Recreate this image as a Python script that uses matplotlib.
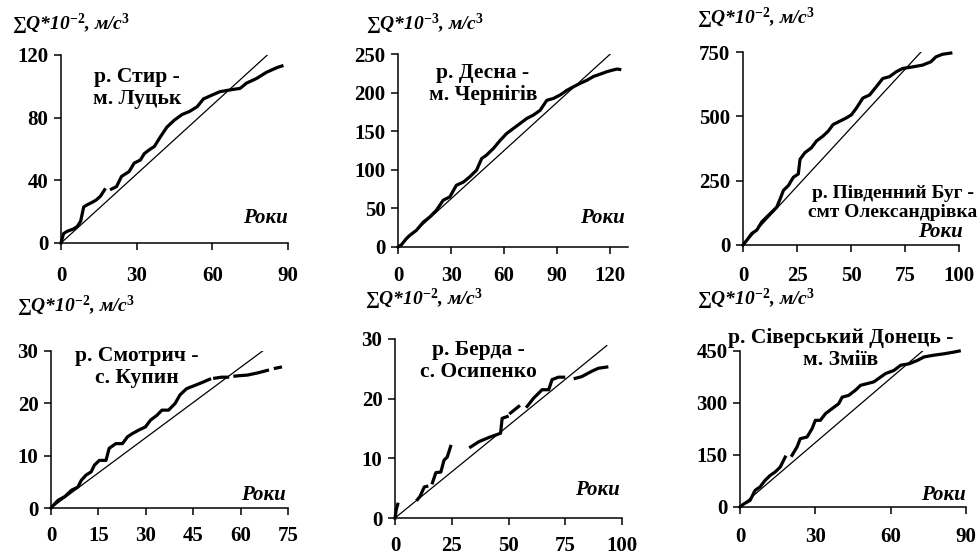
import matplotlib
matplotlib.use("Agg")
import matplotlib.pyplot as plt
import numpy as np

nan = np.nan

# р. Стир - м. Луцьк
styr_x = [0, 1, 2.5, 5, 6.5, 7.8, 9, 10.4, 12.4, 14, 15.7, 17.3, nan,
          20, 22, 24, 27, 29, 31.5, 33, 35, 37, 39.5, 42, 45, 48, 51, 54,
          56.5, 60, 63, 67, 71, 73.5, 77.5, 81.5, 85.7, 87.6]
styr_y = [0, 6, 7.5, 9, 10.6, 14, 23, 24.4, 26, 27.5, 30, 34, nan,
          34.4, 36, 42.5, 45.6, 51, 53, 57, 59.5, 61.6, 68, 74, 78.5, 82, 84, 87,
          92, 94.5, 96.6, 97.7, 98.7, 102, 105, 109, 112, 113]
styr_line = ([0, 81.8], [0, 120])

# р. Десна - м. Чернігів
desna_x = [0, 2, 4.7, 6.6, 10.4, 14.2, 18, 21.7, 25.5, 29.3, 33, 36.9, 40.6,
           44.4, 47.3, 50, 53.9, 57.7, 61.4, 65.2, 69, 72.8, 76.6, 80.3, 84.1,
           87.9, 91.7, 95.5, 99.2, 103, 106.8, 110.6, 114.4, 118, 121, 123.8, 125.3]
desna_y = [0, 3, 10.8, 15, 21.6, 32, 39, 47.6, 60.5, 65, 80, 84, 91,
           99.5, 114.6, 119, 127.6, 138, 147, 153.5, 160, 166.5, 171, 177, 190,
           192.5, 197, 203, 207.6, 212, 216, 221, 224, 227, 229, 230.5, 230]
desna_line = ([0, 120], [0, 250])

# р. Південний Буг - смт Олександрівка
bug_x = [0, 1.8, 4.1, 6.4, 8.7, 11, 13.3, 15.6, 17.2, 18.7, 21, 23.3, 25.6,
         26.4, 28.7, 31.7, 34, 37, 39.4, 41.7, 44.8, 47.9, 50.2, 52.5, 55.5,
         58.6, 61.7, 64.7, 67.8, 70.9, 73.9, 78.5, 83.1, 87, 89.3, 92.3, 96.2]
bug_y = [0, 19, 45, 58, 90, 109, 128, 147, 179, 212, 231, 263, 276,
         333, 359, 378, 404, 423, 442, 468, 481, 494, 506, 532, 571,
         583, 615, 647, 654, 673, 686, 692, 699, 712, 731, 741, 746]
bug_line = ([0, 82.4], [0, 750])

# р. Смотрич - с. Купин
smot_x = [0, 0.7, 2.3, 4.4, 6.5, 8.5, 9.6, 11.1, 12.7, 13.75, 15.3, 17.4,
          18.4, 20.5, 22.6, 24.2, 25.7, 27.8, 29.9, 31.5, 33.5, 35.1, 37.2,
          39.3, 40.8, 42.9, 45, 47.1, 50.2, nan, 51.8, 54, 55.9, nan,
          58.2, 60, 62.2, 65.3, 68.5, nan, 71, 72.6]
smot_y = [0, 0.5, 1.5, 2.2, 3.4, 4.0, 5.3, 6.3, 6.9, 8.2, 9.1, 9.1,
          11.4, 12.3, 12.3, 13.6, 14.2, 14.9, 15.5, 16.8, 17.7, 18.7, 18.7,
          20, 21.6, 22.8, 23.3, 23.8, 24.6, nan, 24.8, 25, 25, nan,
          25.2, 25.3, 25.4, 25.8, 26.3, nan, 26.7, 26.9]
smot_line = ([0, 67.4], [0, 30.2])

# р. Берда - с. Осипенко
berda_x = [0, 0.6, 1.2, nan, 9.9, 11, 12.9, 14, nan, 16.5, 18, 20.2, 21.6,
           23, 24.5, nan, 33.3, 37, 41.4, 44.3, 46.5, 47.2, 49.4, nan, 50.9,
           54.5, nan, 58.2, 61.1, 64.8, 67.7, 69.2, 72, 74.3, nan, 79.4, 82.3,
           86.7, 89.6, 93.3]
berda_y = [0, 1.5, 2.3, nan, 3.1, 3.6, 5.2, 5.3, nan, 5.9, 7.6, 7.7, 9.7,
           10.2, 12, nan, 11.9, 12.8, 13.5, 13.9, 14.2, 16.7, 17, nan, 17.6,
           18.7, nan, 18.7, 20.1, 21.5, 21.5, 23.2, 23.6, 23.6, nan, 23.4, 23.7,
           24.6, 25.1, 25.3]
berda_line = ([0, 93.3], [0, 28.9])

# р. Сіверський Донець - м. Зміїв
don_x = [0, 1.3, 4, 6, 8, 10, 12, 14, 16, 18, nan, 20.7, 22.7, 24, 26.7,
         28.7, 30, 32, 34, 36.7, 39.3, 40.7, 43.3, 46, 48, 50.7, 53.3, 56, 58,
         61.3, 64, 67.3, 70.7, 73.3, 77.3, 81.3, 85.3, 87.3]
don_y = [0, 8, 19, 48, 58, 77, 91, 101, 115, 144, nan, 149, 173, 197, 202,
         226, 250, 250, 269, 284, 298, 317, 322, 337, 351, 356, 361, 375, 385,
         394, 409, 413, 423, 433, 438, 442, 447, 450]
don_line = ([0, 72.7], [0, 450])

titles = ["р. Стир -\nм. Луцьк", "р. Десна -\nм. Чернігів",
          "р. Південний Буг -\nсмт Олександрівка", "р. Смотрич -\nс. Купин",
          "р. Берда -\nс. Осипенко", "р. Сіверський Донець -\nм. Зміїв"]
ylabels = [r"∑Q*10$^{-2}$, м/с$^{3}$", r"∑Q*10$^{-3}$, м/с$^{3}$",
           r"∑Q*10$^{-2}$, м/с$^{3}$", r"∑Q*10$^{-2}$, м/с$^{3}$",
           r"∑Q*10$^{-2}$, м/с$^{3}$", r"∑Q*10$^{-2}$, м/с$^{3}$"]
xticks = [[0, 30, 60, 90], [0, 30, 60, 90, 120], [0, 25, 50, 75, 100],
          [0, 15, 30, 45, 60, 75], [0, 25, 50, 75, 100], [0, 30, 60, 90]]
yticks = [[0, 40, 80, 120], [0, 50, 100, 150, 200, 250], [0, 250, 500, 750],
          [0, 10, 20, 30], [0, 10, 20, 30], [0, 150, 300, 450]]
xmax = [90, 130, 100, 75, 100, 90]

series = [(styr_x, styr_y, styr_line), (desna_x, desna_y, desna_line),
          (bug_x, bug_y, bug_line), (smot_x, smot_y, smot_line),
          (berda_x, berda_y, berda_line), (don_x, don_y, don_line)]

W, H = 977, 556
# axes boxes in pixels: left, top, right, bottom
boxes = [(61, 55, 288, 243), (398, 54, 628, 247), (743, 52, 959, 245),
         (51, 351, 288, 508), (395, 339, 622, 518), (740, 351, 966, 507)]
xpads = [11.5, 8.6, 10, 8, 8, 9.4]
ylab_pos = [(12, 29), (366, 29), (697, 23), (17, 311), (365, 304), (697, 304)]
title_pos = [(137, 88), (483, 84), (893, 203), (137, 367), (478, 361), (841, 349)]
title_size = [15.5, 15.5, 14, 15.5, 15.5, 15.5]
roky_pos = [(265, 218), (602, 218), (940, 232), (263, 495), (597, 490), (943, 495)]

plt.rcParams['font.family'] = ['Liberation Serif', 'DejaVu Serif']
plt.rcParams['font.weight'] = 'bold'
plt.rcParams['mathtext.fontset'] = 'custom'
plt.rcParams['mathtext.rm'] = 'Liberation Serif:bold'
plt.rcParams['mathtext.bf'] = 'Liberation Serif:bold'
plt.rcParams['mathtext.it'] = 'Liberation Serif:bold:italic'
plt.rcParams['mathtext.default'] = 'bf'

fig = plt.figure(figsize=(W / 100, H / 100), dpi=100)

for i in range(6):
    l, t, r, b = boxes[i]
    ax = fig.add_axes([l / W, 1 - b / H, (r - l) / W, (b - t) / H])
    sx, sy, ln = series[i]
    ax.plot(ln[0], ln[1], color='black', lw=0.9)
    ax.plot(sx, sy, color='black', lw=2.3, clip_on=False)
    ax.set_xlim(0, xmax[i])
    ax.set_ylim(0, yticks[i][-1])
    ax.set_xticks(xticks[i])
    ax.set_yticks(yticks[i])
    for s in ['top', 'right']:
        ax.spines[s].set_visible(False)
    for s in ['left', 'bottom']:
        ax.spines[s].set_linewidth(1.1)
    ax.tick_params(axis='both', direction='out', length=5, width=1.1, labelsize=15)
    ax.tick_params(axis='x', pad=xpads[i])
    ax.tick_params(axis='y', pad=4)
    for lab in ax.get_xticklabels() + ax.get_yticklabels():
        lab.set_fontweight('bold')

    x, y = ylab_pos[i]
    fig.text(x / W, 1 - y / H, ylabels[i], fontsize=14, fontstyle='italic',
             fontweight='bold', ha='left', va='baseline')
    x, y = title_pos[i]
    fig.text(x / W, 1 - y / H, titles[i], fontsize=title_size[i], fontweight='bold',
             ha='center', va='center', linespacing=1.1)
    x, y = roky_pos[i]
    fig.text(x / W, 1 - y / H, "Роки", fontsize=15, fontstyle='italic',
             fontweight='bold', ha='center', va='center')

fig.savefig("out.png", dpi=100)
